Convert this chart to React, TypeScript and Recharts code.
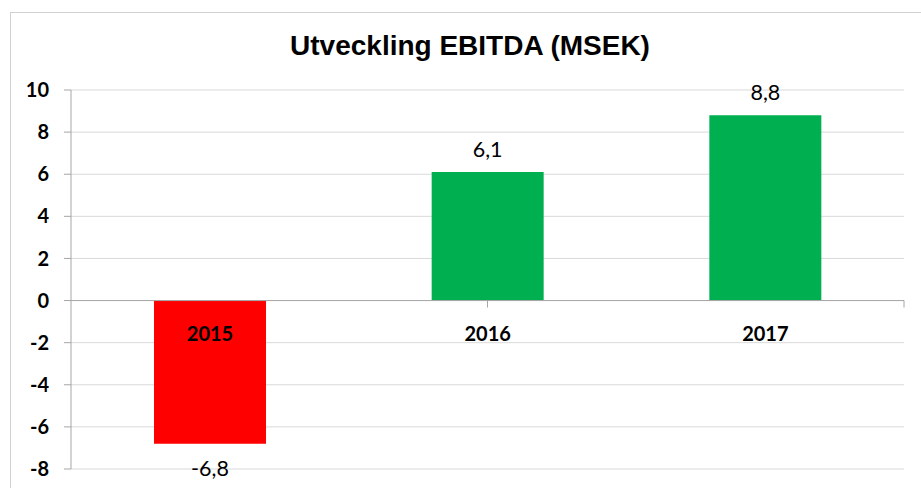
import { BarChart, Bar, XAxis, YAxis, CartesianGrid, Cell, LabelList, ReferenceLine } from 'recharts'

const years = ['2015', '2016', '2017']
const ebitda = [-6.8, 6.1, 8.8]
const barColors = ['#FF0000', '#00B050', '#00B050']
const yTicks = [-8, -6, -4, -2, 0, 2, 4, 6, 8, 10]
const bandEdges = [1, 2, 3]

const data = years.map((year, i) => ({ year, value: ebitda[i] }))

const AXIS = '#A6A6A6'
const GRID = '#D9D9D9'
const LABEL_FONT = 'Lato, "Open Sans", sans-serif'

const fmt = (v: number) => v.toFixed(1).replace('.', ',')

function zeroAndEnd(props: any, v: number) {
  const { y, height } = props
  const a = Number(y)
  const b = Number(y) + Number(height)
  const lo = Math.min(a, b)
  const hi = Math.max(a, b)
  return v >= 0 ? { zero: hi, end: lo } : { zero: lo, end: hi }
}

const renderValue = (props: any) => {
  const { x, width, index } = props
  const v = ebitda[index]
  const { end } = zeroAndEnd(props, v)
  const ty = v >= 0 ? end - 23 : end + 24
  return (
    <text
      x={Number(x) + Number(width) / 2}
      y={ty}
      textAnchor="middle"
      dominantBaseline="central"
      fontFamily={LABEL_FONT}
      fontSize={21.5}
      fill="#000"
    >
      {fmt(v)}
    </text>
  )
}

const renderYear = (props: any) => {
  const { x, width, index } = props
  const v = ebitda[index]
  const { zero } = zeroAndEnd(props, v)
  return (
    <text
      x={Number(x) + Number(width) / 2}
      y={zero + 32}
      textAnchor="middle"
      dominantBaseline="central"
      fontFamily={LABEL_FONT}
      fontWeight={700}
      fontSize={20}
      fill="#000"
    >
      {years[index]}
    </text>
  )
}

export default function App() {
  return (
    <div style={{ position: 'fixed', left: 0, top: 0, width: 921, height: 488, overflow: 'hidden', background: '#fff' }}>
      <div
        style={{
          position: 'absolute',
          left: 10,
          top: 12,
          width: 960,
          height: 520,
          border: '1px solid #D0D0D0',
        }}
      />
      <div
        style={{
          position: 'absolute',
          left: 0,
          top: 32,
          width: 940,
          textAlign: 'center',
          fontFamily: '"Liberation Sans", Arial, sans-serif',
          fontWeight: 700,
          fontSize: 28,
          lineHeight: '28px',
          color: '#000',
        }}
      >
        Utveckling EBITDA (MSEK)
      </div>
      <div style={{ position: 'absolute', left: 0, top: 0 }}>
        <BarChart
          width={921}
          height={488}
          data={data}
          margin={{ top: 90, right: 17, bottom: 19, left: 0 }}
        >
          <CartesianGrid horizontal vertical={false} stroke={GRID} strokeWidth={1} />
          <XAxis xAxisId="cat" dataKey="year" hide />
          <XAxis xAxisId="num" type="number" domain={[0, 3]} hide />
          <YAxis
            width={71}
            domain={[-8, 10]}
            ticks={yTicks}
            interval={0}
            axisLine={{ stroke: AXIS }}
            tickLine={{ stroke: AXIS }}
            tickSize={7}
            tickMargin={15}
            tick={{ fontFamily: LABEL_FONT, fontWeight: 700, fontSize: 20, fill: '#000' }}
          />
          <Bar xAxisId="cat" dataKey="value" barSize={112} isAnimationActive={false}>
            {data.map((d, i) => (
              <Cell key={d.year} fill={barColors[i]} />
            ))}
            <LabelList dataKey="value" content={renderValue} />
            <LabelList dataKey="year" content={renderYear} />
          </Bar>
          <ReferenceLine xAxisId="cat" y={0} stroke={AXIS} strokeWidth={1} />
          {bandEdges.map((b) => (
            <ReferenceLine
              key={b}
              xAxisId="num"
              segment={[{ x: b, y: 0 }, { x: b, y: -0.33 }]}
              stroke={AXIS}
              ifOverflow="visible"
            />
          ))}
        </BarChart>
      </div>
    </div>
  )
}
